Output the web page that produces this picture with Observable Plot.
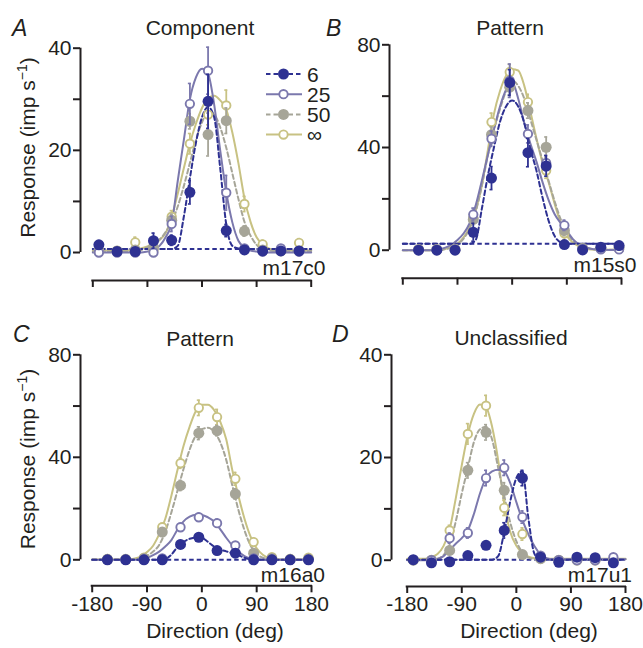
<!DOCTYPE html>
<html><head><meta charset="utf-8">
<script src="https://cdn.jsdelivr.net/npm/d3@7"></script>
<script src="https://cdn.jsdelivr.net/npm/@observablehq/plot@0.6"></script>
<style>
body{margin:0;background:#fff;}
#fig{position:relative;width:643px;height:648px;overflow:hidden;font-family:"Liberation Sans",Arial,sans-serif;background:#fff;}
#fig svg{position:absolute;}
</style></head><body><div id="fig"></div>
<script>
// ---------- DATA ----------
const curveAngles = [-180,-170,-160,-150,-140,-130,-120,-110,-100,-90,-80,-70,-60,-50,-40,-30,-20,-10,0,10,20,30,40,50,60,70,80,90,100,110,120,130,140,150,160,170,180];
const xTickValues = [-180,-90,0,90,180];
const seriesNames = ["6","25","50","∞"];

// Panel A (Component, m17c0)
const dirsA = [-170,-140,-110,-80,-50,-20,10,40,70,100,130,160];
const ptsA6   = [1.5,0.2,0.2,2.3,2.4,11.8,29.6,4.3,0.5,0.3,0.3,0.3];
const ptsA25  = [0,0,0,0,5.6,29.1,35.6,11.7,0.8,0.2,0.8,0.2];
const ptsA50  = [0.3,0.3,0.5,1,6.3,25.7,23.1,25.8,4.2,0.5,0.3,0.3];
const ptsAinf = [0.2,0.3,2,0.5,7,21.3,27,28.8,9.5,1.6,0.4,1.9];
const errA6   = [0.8,0.3,0.3,1.5,1,2.3,5.3,1.2,0.3,0.3,0.3,0.3];
const errA25  = [0.3,0.3,0.3,0.3,1.5,4,4.6,3.4,0.5,0.3,0.5,0.3];
const errA50  = [0.3,0.3,0.4,0.6,1.2,1.5,4.2,2.5,1,0.4,0.3,0.3];
const errAinf = [0.3,0.3,1,0.4,1.2,2,2,3,1.5,0.8,0.3,0.8];
const fitA6   = [0.7,0.7,0.7,0.7,0.7,0.7,0.7,0.7,0.7,0.7,0.7,0.7,0.7,0.7,1.3,7,14.5,21.5,26.5,28.5,26.5,16.5,5.5,1.3,0.8,0.7,0.7,0.7,0.7,0.7,0.7,0.7,0.7,0.7,0.7,0.7,0.7];
const fitA25  = [0,0,0,0,0,0,0,0,0,0.2,0.5,1.3,3,5.7,14,22,30,34.3,36,35,29,20,11.8,5.9,2.3,1,0.4,0.2,0,0,0,0,0,0,0,0,0];
const fitA50  = [0.2,0.2,0.2,0.2,0.2,0.2,0.2,0.2,0.5,1,1.5,2.5,4,6,9,13,17.5,22,25.5,27.5,27,24.5,20.5,15.5,10.5,6,3.3,1.5,0.7,0.4,0.3,0.3,0.3,0.3,0.3,0.3,0.3];
const fitAinf = [0.4,0.4,0.4,0.4,0.4,0.4,0.4,0.4,0.8,1.2,1.8,2.5,3.8,7,11.5,16.5,21.3,25.2,28.3,30.2,30.7,29.8,28,23.5,17.5,10.6,6,3,1.6,0.8,0.5,0.4,0.4,0.4,0.4,0.4,0.4];
const baseA = 0.7;

// Panel B (Pattern, m15s0)
const dirsB = [-154,-124,-94,-64,-34,-4,26,56,86,116,146,176];
const ptsB6   = [0,0,0,7,28.1,65.3,38,32.8,2.2,0.1,1.2,1.8];
const ptsB25  = [0,0,0.3,13.9,43.4,66,45.3,34,9.7,0.5,0.3,0.3];
const ptsB50  = [0.3,0.3,0.3,12,45,63.5,54.4,40.1,7.7,0.8,0.8,1.2];
const ptsBinf = [0.2,0.2,0.5,12.5,49.9,69.4,57.7,31,6.6,0.5,0.5,0.5];
const errB6   = [0.5,0.5,0.5,3.5,4.5,5,5.5,4,1,0.5,0.5,0.5];
const errB25  = [0.5,0.5,0.5,2.5,3,6.5,3.5,3,2,0.5,0.5,0.5];
const errB50  = [0.5,0.5,0.5,2,3,3,3,4,2,0.5,0.5,0.5];
const errBinf = [0.5,0.5,0.5,2,3.5,3,3,3,2.5,0.5,0.5,0.5];
const fitB6   = [2.5,2.5,2.5,2.5,2.5,2.5,2.5,2.5,2.5,2.5,2.5,2.5,4,16,29,40,50,56,58.3,56,49.5,39.5,31,20.5,11.5,5.5,3,2.5,2.5,2.5,2.5,2.5,2.5,2.5,2.5,2.5,2.5];
const fitB25  = [0,0,0,0,0,0.1,0.4,1,2.2,4,6.5,10.5,17.5,27,37,47,56,62.5,65.5,59,49.5,41.5,34.5,26.5,19.5,14,10.5,7.5,4.3,2.3,1.2,0.6,0.3,0.2,0.1,0.1,0.1];
const fitB50  = [0,0,0,0,0,0,0,0.4,1,2.3,4.5,8.5,15,25,37,47,55,62,66,64,59,51,43,35,27,19,12,7,3.8,2,1,0.5,0.3,0.2,0.2,0.2,0.2];
const fitBinf = [0,0,0,0,0,0,0.2,0.6,1.2,2.5,5,9,15.5,25,39,53,62,68,70.5,70,64,54,43.5,34,26.5,18,10.5,5.5,3,1.5,0.7,0.3,0.2,0.2,0.2,0.2,0.2];
const baseB = 2.5;

// Panel C (Pattern, m16a0)
const dirsC = [-155,-125,-95,-65,-35,-5,25,55,85,115,145,175];
const ptsC6   = [0,0,0,0,6,8.8,3.6,2.6,0,0,0,0];
const ptsC25  = [0,0,0.2,0.5,12.7,16.6,14.3,5.6,0.5,0.2,0,0];
const ptsC50  = [0.2,0.2,0.5,10.8,29,49.4,50.4,25.7,2.6,0.5,0.2,0.3];
const ptsCinf = [0.3,0.2,0.8,12.7,37.7,59.3,55.7,31.6,6.9,1,0.3,0.8];
const errC6   = [0.5,0.5,0.5,0.5,1.5,1.5,1.5,1.5,0.5,0.5,0.5,0.5];
const errC25  = [0.5,0.5,0.5,0.5,1.5,1.5,1.5,1,0.5,0.5,0.5,0.5];
const errC50  = [0.5,0.5,0.5,1.5,2,2.5,2,2,1,0.5,0.5,0.5];
const errCinf = [0.5,0.5,0.5,1.5,2,3,3,2.5,1.5,0.5,0.5,0.5];
const fitC6   = [0,0,0,0,0,0,0,0,0,0,0,0,0.3,2,5,7,8.2,8.7,8.5,7,5.2,4,3.3,2.6,1.8,0.8,0.2,0,0,0,0,0,0,0,0,0,0];
const fitC25  = [0,0,0,0,0,0,0,0,0.2,0.8,1.8,3.2,5.2,7.7,11.8,15,16.8,17.6,17.5,16.6,15,12,8.6,5.6,3.2,1.4,0.5,0.2,0,0,0,0,0,0,0,0,0];
const fitC50  = [0,0,0,0,0,0,0,0.2,0.6,1.5,3.2,5.8,11,18.5,27,35.5,43,48.5,51,51.5,50,46,39,29,19.5,11.5,5.6,2.3,0.8,0.3,0,0,0,0,0,0,0];
const fitCinf = [0.1,0.1,0.1,0.1,0.1,0.1,0.2,0.5,1.2,3,5.5,10,16,25,35,44.5,52,58,60.5,60.5,58.5,54,47,35,25,16,9,4.5,2,0.7,0.3,0.1,0.1,0.1,0.1,0.1,0.1];
const baseC = 0;

// Panel D (Unclassified, m17u1)
const dirsD = [-170,-140,-110,-80,-50,-20,10,40,70,100,130,160];
const ptsD6   = [0.1,-0.5,-0.3,0.9,2.9,5.8,16,0.6,-0.4,0.6,0.5,-0.5];
const ptsD25  = [0,0,4.3,5.3,16,18,8.4,0.9,0,0,0,0.6];
const ptsD50  = [0,0,1.9,17.5,24.9,13.6,1.1,0.3,0,0,0,0];
const ptsDinf = [0,0,5.8,24.6,30.1,10.2,5.1,0.3,0,0,0,0];
const errD6   = [0.3,0.3,0.3,0.5,0.5,1.5,1.5,0.3,0.3,0.3,0.3,0.3];
const errD25  = [0.3,0.3,1,1,1.5,1.5,1.2,0.5,0.3,0.3,0.3,0.3];
const errD50  = [0.3,0.3,0.8,1.5,1.5,1.5,0.5,0.3,0.3,0.3,0.3,0.3];
const errDinf = [0.3,0.3,1,2,2,1.5,1.2,0.3,0.3,0.3,0.3,0.3];
const fitD6   = [0.1,0.1,0.1,0.1,0.1,0.1,0.1,0.1,0.1,0.1,0.1,0.1,0.1,0.1,0.1,0.8,5.5,11.5,16,17.3,8,1.2,0.1,0.1,0.1,0.1,0.1,0.1,0.1,0.1,0.1,0.1,0.1,0.1,0.1,0.1,0.1];
const fitD25  = [0,0,0,0,0,0.2,0.8,2,3.2,4.3,5.8,9,13,16,17.3,17.6,17.3,15,11.3,7.8,5,2.7,1.1,0.4,0.2,0.2,0.2,0.2,0.2,0.2,0.2,0.2,0.2,0.2,0.2,0.2,0.2];
const fitD50  = [0.1,0.1,0.1,0.1,0.1,0.3,1,3,7.5,13,18,23,25.5,26,23.5,18,12.5,7.3,3.7,1.5,0.5,0.2,0.2,0.2,0.2,0.2,0.2,0.2,0.2,0.2,0.2,0.2,0.2,0.2,0.2,0.2,0.2];
const fitDinf = [0.3,0.3,0.3,0.3,0.6,1.2,2.8,6,12,18.5,24.5,28.5,30.3,29.8,26,19.5,11,5.5,2.8,1.4,0.7,0.4,0.3,0.3,0.3,0.3,0.3,0.3,0.3,0.3,0.3,0.3,0.3,0.3,0.3,0.3,0.3];
const baseD = 0.1;

// ---------- STYLE ----------
const ink = "#231f20";
const FONT = '"Liberation Sans", Arial, Helvetica, sans-serif';
const styles = {
  "6":  {color: "#2e3192", open: false, dash: "4.5,3"},
  "25": {color: "#7b78ad", open: true,  dash: null},
  "50": {color: "#a6a598", open: false, dash: "4.5,3"},
  "∞":  {color: "#c8c283", open: true,  dash: null}
};
const drawOrder = ["∞","50","25","6"];
const R_OPEN = 4.2, R_FILL = 5.5;

const panels = [
  {left: 0,   top: 0,   w: 321, h: 300, mL: 80, mR: 10.3, mT: 47.7, mB: 20,   xmin: -200.3, ymin: -5.48, ymax: 40,
   yTicks: [0,10,20,30,40], yLab: [0,20,40], xLabels: false, dirs: dirsA, base: baseA,
   pts: {"6": ptsA6, "25": ptsA25, "50": ptsA50, "∞": ptsAinf},
   err: {"6": errA6, "25": errA25, "50": errA50, "∞": errAinf},
   fit: {"6": fitA6, "25": fitA25, "50": fitA50, "∞": fitAinf}},
  {left: 321, top: 0,   w: 322, h: 300, mL: 68, mR: 22, mT: 44.3, mB: 22.3, xmin: -201.9, ymin: -10.9, ymax: 80,
   yTicks: [0,20,40,60,80], yLab: [0,40,80], xLabels: false, dirs: dirsB, base: baseB,
   pts: {"6": ptsB6, "25": ptsB25, "50": ptsB50, "∞": ptsBinf},
   err: {"6": errB6, "25": errB25, "50": errB50, "∞": errBinf},
   fit: {"6": fitB6, "25": fitB25, "50": fitB50, "∞": fitBinf}},
  {left: 0,   top: 310, w: 321, h: 338, mL: 80, mR: 10, mT: 44.3, mB: 62.7, xmin: -199.2, ymin: -10.15, ymax: 80,
   yTicks: [0,20,40,60,80], yLab: [0,40,80], xLabels: true, dirs: dirsC, base: baseC,
   pts: {"6": ptsC6, "25": ptsC25, "50": ptsC50, "∞": ptsCinf},
   err: {"6": errC6, "25": errC25, "50": errC50, "∞": errCinf},
   fit: {"6": fitC6, "25": fitC25, "50": fitC50, "∞": fitCinf}},
  {left: 321, top: 310, w: 322, h: 338, mL: 70, mR: 18, mT: 44.3, mB: 62, xmin: -205.9, ymin: -5.12, ymax: 40,
   yTicks: [0,10,20,30,40], yLab: [0,20,40], xLabels: true, dirs: dirsD, base: baseD,
   pts: {"6": ptsD6, "25": ptsD25, "50": ptsD50, "∞": ptsDinf},
   err: {"6": errD6, "25": errD25, "50": errD50, "∞": errDinf},
   fit: {"6": fitD6, "25": fitD25, "50": fitD50, "∞": fitDinf}}
];

const fig = document.getElementById("fig");

for (const p of panels) {
  const marks = [];
  // axis lines
  marks.push(Plot.ruleX([p.xmin], {y1: () => 0, y2: () => p.ymax, stroke: ink, strokeWidth: 2}));
  marks.push(Plot.ruleY([p.ymin], {x1: () => -180, x2: () => 180, stroke: ink, strokeWidth: 2, strokeLinecap: "square"}));
  marks.push(Plot.axisY({ticks: p.yTicks, tickFormat: d => p.yLab.includes(d) ? String(d) : "",
    tickSize: 7, tickPadding: 2, stroke: ink, strokeWidth: 2, fill: ink, fontSize: 21, label: null}));
  marks.push(Plot.axisX({ticks: xTickValues, tickFormat: d => p.xLabels ? String(d) : "",
    tickSize: 7, tickPadding: 3, stroke: ink, strokeWidth: 2, fill: ink, fontSize: 21, label: null}));
  // spontaneous baseline
  marks.push(Plot.ruleY([p.base], {x1: () => -180, x2: () => 180, stroke: styles["6"].color, strokeWidth: 2, strokeDasharray: styles["6"].dash}));
  // fitted curves
  for (const k of drawOrder) {
    const s = styles[k];
    const cd = curveAngles.map((a, i) => ({a, v: p.fit[k][i]}));
    marks.push(Plot.line(cd, {x: "a", y: "v", stroke: s.color, strokeWidth: 2, strokeDasharray: s.dash, curve: "monotone-x"}));
  }
  // data points with error bars
  for (const k of drawOrder) {
    const s = styles[k];
    const pd = p.dirs.map((d, i) => ({d, v: p.pts[k][i], e: p.err[k][i]}));
    marks.push(Plot.ruleX(pd, {x: "d", y1: r => r.v - r.e, y2: r => r.v + r.e, stroke: s.color, strokeWidth: 1.8}));
    marks.push(Plot.ruleY(pd, {y: r => r.v + r.e, x1: r => r.d - 2.5, x2: r => r.d + 2.5, stroke: s.color, strokeWidth: 1.6}));
    marks.push(Plot.ruleY(pd, {y: r => r.v - r.e, x1: r => r.d - 2.5, x2: r => r.d + 2.5, stroke: s.color, strokeWidth: 1.6}));
    marks.push(Plot.dot(pd, {x: "d", y: "v", r: s.open ? R_OPEN : R_FILL, fill: s.open ? "white" : s.color,
      stroke: s.color, strokeWidth: s.open ? 1.9 : 0}));
  }
  const svg = Plot.plot({
    width: p.w, height: p.h,
    marginLeft: p.mL, marginRight: p.mR, marginTop: p.mT, marginBottom: p.mB,
    x: {domain: [p.xmin, 180]},
    y: {domain: [p.ymin, p.ymax]},
    style: {fontFamily: FONT, fontSize: "21px", color: ink, background: "transparent", overflow: "visible"},
    marks
  });
  svg.style.position = "absolute";
  svg.style.left = p.left + "px";
  svg.style.top = p.top + "px";
  svg.style.maxWidth = "none";
  fig.appendChild(svg);
}

// ---------- TEXT OVERLAY ----------
const ov = d3.select(fig).append("svg")
  .attr("width", 643).attr("height", 648)
  .style("left", "0px").style("top", "0px")
  .attr("font-family", FONT).attr("fill", ink);

function t(x, y, s, size, anchor, italic) {
  ov.append("text").attr("x", x).attr("y", y).attr("font-size", size)
    .attr("text-anchor", anchor || "start").attr("font-style", italic ? "italic" : null).text(s);
}
// panel letters
t(12, 35.5, "A", 23, "start", true);
t(326, 35.5, "B", 23, "start", true);
t(13, 342, "C", 23, "start", true);
t(332, 342, "D", 23, "start", true);
// titles
t(200, 35, "Component", 21, "middle");
t(510, 35, "Pattern", 21, "middle");
t(200, 345.5, "Pattern", 21, "middle");
t(511, 345, "Unclassified", 21, "middle");
// cell names
t(325.5, 275, "m17c0", 21, "end");
t(636.5, 271.7, "m15s0", 21, "end");
t(325, 581.7, "m16a0", 21, "end");
t(632, 581.7, "m17u1", 21, "end");
// x labels
t(215, 638.3, "Direction (deg)", 21, "middle");
t(529, 638.3, "Direction (deg)", 21, "middle");
// y labels
for (const yc of [147.5, 459]) {
  const tx = ov.append("text").attr("transform", `translate(35,${yc}) rotate(-90)`)
    .attr("text-anchor", "middle").attr("font-size", 21);
  tx.append("tspan").text("Response (imp s");
  tx.append("tspan").attr("font-size", 14).attr("dy", -8).text("\u22121");
  tx.append("tspan").attr("dy", 8).text(")");
}
// legend (panel A)
const legY = [74, 94.2, 114.4, 134.6];
seriesNames.forEach((k, i) => {
  const s = styles[k], y = legY[i];
  ov.append("line").attr("x1", 266).attr("x2", 302).attr("y1", y).attr("y2", y)
    .attr("stroke", s.color).attr("stroke-width", 2).attr("stroke-dasharray", s.dash);
  ov.append("circle").attr("cx", 283.5).attr("cy", y).attr("r", s.open ? R_OPEN : R_FILL)
    .attr("fill", s.open ? "white" : s.color).attr("stroke", s.color).attr("stroke-width", s.open ? 1.9 : 0);
  t(307, y + 7.5, k, 21, "start");
});
</script></body></html>
